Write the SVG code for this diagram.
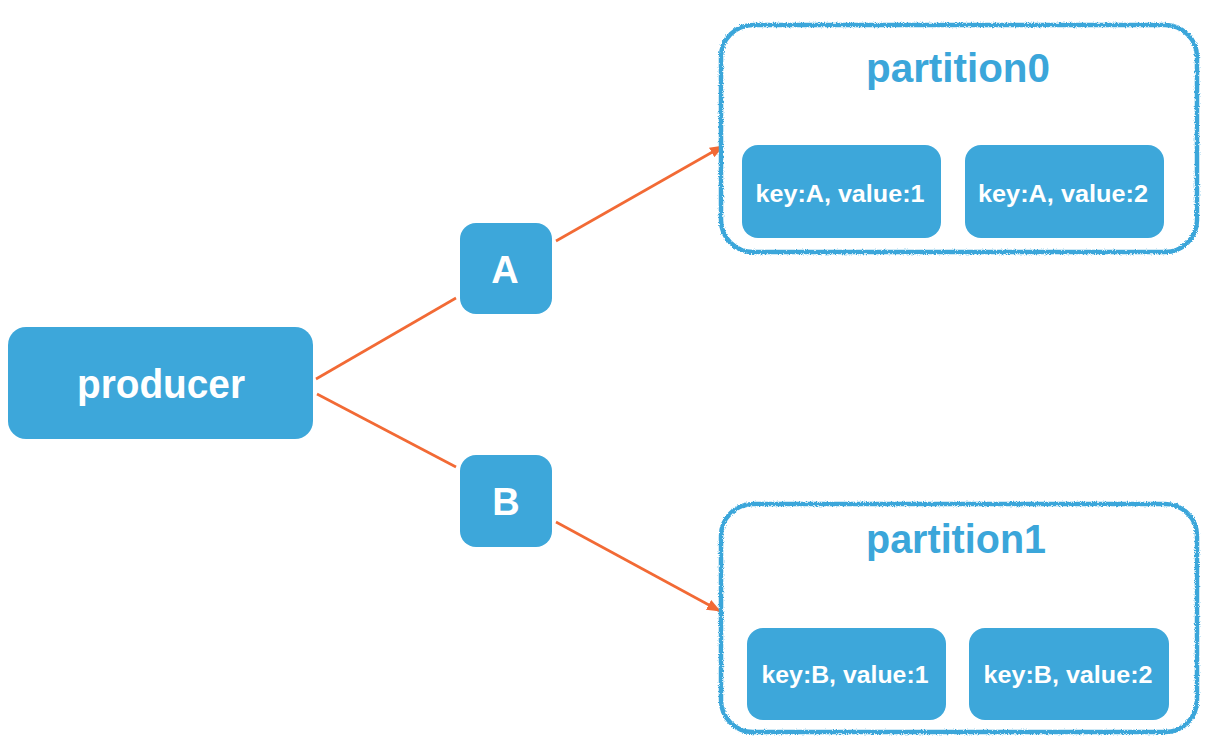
<svg xmlns="http://www.w3.org/2000/svg" width="1206" height="746" viewBox="0 0 1206 746">
  <defs>
    <style>
      .box { fill: #3DA7DA; }
      .lbl { fill: #FFFFFF; font-family: "Liberation Sans", Arial, sans-serif; font-weight: bold; text-anchor: middle; }
      .ttl { fill: #3BA6DA; font-family: "Liberation Sans", Arial, sans-serif; font-weight: bold; text-anchor: middle; font-size: 41px; }
      .part { fill: #FFFFFF; stroke: #3BA6DA; stroke-width: 4.5; filter: url(#rough); }
      .conn { stroke: #F26A35; stroke-width: 2.6; fill: none; }
    </style>
    <filter id="rough" x="-5%" y="-5%" width="110%" height="110%">
      <feTurbulence type="fractalNoise" baseFrequency="0.9" numOctaves="2" seed="3" result="n"/>
      <feDisplacementMap in="SourceGraphic" in2="n" scale="3.5" xChannelSelector="R" yChannelSelector="G"/>
    </filter>
    <marker id="arr" viewBox="0 0 14 11" refX="13" refY="5.5" markerWidth="14" markerHeight="11" markerUnits="userSpaceOnUse" orient="auto">
      <path d="M0,0 L14,5.5 L0,11 Z" fill="#F26A35"/>
    </marker>
  </defs>
  <rect width="1206" height="746" fill="#FFFFFF"/>

  <g id="connectors">
    <line class="conn" x1="316" y1="379" x2="456" y2="298"/>
    <line class="conn" x1="317" y1="394" x2="456" y2="467"/>
    <line class="conn" x1="556" y1="241" x2="723" y2="146" marker-end="url(#arr)"/>
    <line class="conn" x1="556" y1="522" x2="720" y2="611" marker-end="url(#arr)"/>
  </g>

  <g id="partition0">
    <rect class="part" x="721" y="25" width="476" height="227" rx="32"/>
    <text class="ttl" x="958" y="82" textLength="184" lengthAdjust="spacingAndGlyphs">partition0</text>
  </g>
  <g id="a1">
    <rect class="box" x="742" y="145" width="199" height="93" rx="16"/>
    <text class="lbl" x="840" y="202" font-size="23" textLength="169" lengthAdjust="spacingAndGlyphs">key:A, value:1</text>
  </g>
  <g id="a2">
    <rect class="box" x="965" y="145" width="199" height="93" rx="16"/>
    <text class="lbl" x="1063" y="202" font-size="23" textLength="170" lengthAdjust="spacingAndGlyphs">key:A, value:2</text>
  </g>

  <g id="partition1">
    <rect class="part" x="721" y="504" width="476" height="228" rx="32"/>
    <text class="ttl" x="956" y="553" textLength="180" lengthAdjust="spacingAndGlyphs">partition1</text>
  </g>
  <g id="b1">
    <rect class="box" x="747" y="628" width="199" height="92" rx="16"/>
    <text class="lbl" x="845" y="683" font-size="23" textLength="167" lengthAdjust="spacingAndGlyphs">key:B, value:1</text>
  </g>
  <g id="b2">
    <rect class="box" x="969" y="628" width="200" height="92" rx="16"/>
    <text class="lbl" x="1068" y="683" font-size="23" textLength="169" lengthAdjust="spacingAndGlyphs">key:B, value:2</text>
  </g>

  <g id="producer">
    <rect class="box" x="8" y="327" width="305" height="112" rx="18"/>
    <text class="lbl" x="161" y="398" font-size="41" textLength="168" lengthAdjust="spacingAndGlyphs">producer</text>
  </g>
  <g id="A">
    <rect class="box" x="460" y="223" width="92" height="91" rx="16"/>
    <text class="lbl" x="505" y="283" font-size="38">A</text>
  </g>
  <g id="B">
    <rect class="box" x="460" y="455" width="92" height="92" rx="16"/>
    <text class="lbl" x="506" y="515" font-size="38">B</text>
  </g>
</svg>
